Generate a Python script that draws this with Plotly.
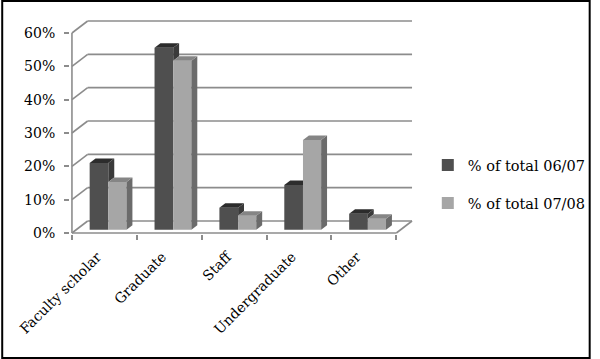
import plotly.graph_objects as go

# ---------------- data ----------------
categories = ["Faculty scholar", "Graduate", "Staff", "Undergraduate", "Other"]
share_0607 = [20.0, 54.6, 6.6, 13.4, 4.8]
share_0708 = [14.3, 50.7, 4.2, 26.9, 3.3]
series_names = ["% of total 06/07", "% of total 07/08"]
y_tick_values = [0, 10, 20, 30, 40, 50, 60]
y_tick_labels = ["0%", "10%", "20%", "30%", "40%", "50%", "60%"]

# ---------------- style / geometry constants ----------------
FONT = "DejaVu Serif"
DARK_FRONT, DARK_SIDE, DARK_TOP = "#4f4f4f", "#3a3a3a", "#2c2c2c"
LIGHT_FRONT, LIGHT_SIDE, LIGHT_TOP = "#a6a6a6", "#6b6b6b", "#858585"
GRID = "#8c8c8c"
FLOOR = 1.0          # bars stand a little behind the front edge of the floor
OFF_D, W_D = -0.227, 0.288
OFF_L, W_L = 0.061, 0.280
DX, DY = 0.091, 1.35  # depth of each bar (in data units)
GX, GY = 0.242, 3.6   # depth of the back wall (in data units)

xpos = list(range(len(categories)))
x_min, x_max = -0.5, len(categories) - 0.5

fig = go.Figure()

# front faces (real bars)
fig.add_trace(go.Bar(x=xpos, y=share_0607, base=FLOOR, offset=OFF_D, width=W_D,
                     marker=dict(color=DARK_FRONT, line=dict(width=0)),
                     name=series_names[0], legendgroup="a"))
fig.add_trace(go.Bar(x=xpos, y=share_0708, base=FLOOR, offset=OFF_L, width=W_L,
                     marker=dict(color=LIGHT_FRONT, line=dict(width=0)),
                     name=series_names[1], legendgroup="b"))


def poly(pts, color):
    xs = [p[0] for p in pts] + [pts[0][0]]
    ys = [p[1] for p in pts] + [pts[0][1]]
    fig.add_trace(go.Scatter(x=xs, y=ys, mode="lines", fill="toself",
                             fillcolor=color, line=dict(width=0, color=color),
                             hoverinfo="skip", showlegend=False))


# 3D faces computed from the data
for i, (a, b) in enumerate(zip(share_0607, share_0708)):
    dl = xpos[i] + OFF_D
    dr = dl + W_D
    lr = xpos[i] + OFF_L + W_L
    td = FLOOR + a
    tl = FLOOR + b
    if tl < td:
        poly([(dl, td), (dr, td), (dr + DX, td + DY), (dl + DX, td + DY)], DARK_TOP)
        poly([(dr, tl), (dr, td), (dr + DX, td + DY), (dr + DX, tl + DY)], DARK_SIDE)
    else:
        poly([(dl, td), (dr, td), (dr, td + DY), (dl + DX, td + DY)], DARK_TOP)
    poly([(lr, FLOOR), (lr, tl), (lr + DX, tl + DY), (lr + DX, FLOOR + DY)], LIGHT_SIDE)
    poly([(dr, tl), (lr, tl), (lr + DX, tl + DY), (dr + DX, tl + DY)], LIGHT_TOP)

# back wall gridlines, side wall diagonals, floor and vertical axis
shapes = []
for v in y_tick_values:
    shapes.append(dict(type="line", xref="x", yref="y", x0=x_min, y0=v,
                       x1=x_min + GX, y1=v + GY, line=dict(color=GRID, width=1.6), layer="below"))
    shapes.append(dict(type="line", xref="x", yref="y", x0=x_min + GX, y0=v + GY,
                       x1=x_max + GX, y1=v + GY, line=dict(color=GRID, width=1.6), layer="below"))
shapes.append(dict(type="line", xref="x", yref="y", x0=x_min, y0=0, x1=x_max, y1=0,
                   line=dict(color=GRID, width=1.6), layer="below"))
shapes.append(dict(type="line", xref="x", yref="y", x0=x_max, y0=0, x1=x_max + GX, y1=GY,
                   line=dict(color=GRID, width=1.6), layer="below"))
shapes.append(dict(type="line", xref="x", yref="y", x0=x_min, y0=0, x1=x_min,
                   y1=y_tick_values[-1], line=dict(color=GRID, width=1.6), layer="below"))

W, H = 600, 359
ML, MR, MT, MB = 70, 178, 20, 125
pw, ph = W - ML - MR, H - MT - MB
shapes.append(dict(type="rect", xref="paper", yref="paper",
                   x0=-(ML - 1) / pw, x1=1 + (MR - 1) / pw,
                   y0=-(MB - 1) / ph, y1=1 + (MT - 1) / ph,
                   line=dict(color="black", width=2), layer="above"))

fig.update_layout(
    width=W, height=H,
    margin=dict(l=ML, r=MR, t=MT, b=MB),
    paper_bgcolor="white", plot_bgcolor="white",
    barmode="overlay",
    shapes=shapes,
    font=dict(family=FONT, size=14, color="black"),
    xaxis=dict(range=[-0.53, x_max + 0.3], tickmode="array", tickvals=xpos,
               ticktext=categories, tickangle=-45, showgrid=False, zeroline=False,
               showline=False, ticks="", tickfont=dict(size=14),
               ticklabelshift=-7, ticklabelstandoff=11,
               minor=dict(tickmode="array", tickvals=[x - 0.5 for x in xpos] + [x_max],
                          ticks="outside", ticklen=5, tickcolor=GRID, tickwidth=1.6)),
    yaxis=dict(range=[-0.3, 63.9], tickmode="array", tickvals=y_tick_values,
               ticktext=y_tick_labels, showgrid=False, zeroline=False, showline=False,
               ticks="outside", ticklen=5, tickcolor=GRID, tickwidth=1.6,
               ticklabelstandoff=6, tickfont=dict(size=14)),
    legend=dict(xref="container", yref="container", x=0.713, y=0.487,
                xanchor="left", yanchor="middle", traceorder="grouped",
                tracegroupgap=16, font=dict(size=14.5), bgcolor="rgba(0,0,0,0)"),
    hovermode=False,
)

fig.write_html("out.html", config={"displayModeBar": False},
               post_script="document.body.style.margin='0';document.body.style.overflow='hidden';")
